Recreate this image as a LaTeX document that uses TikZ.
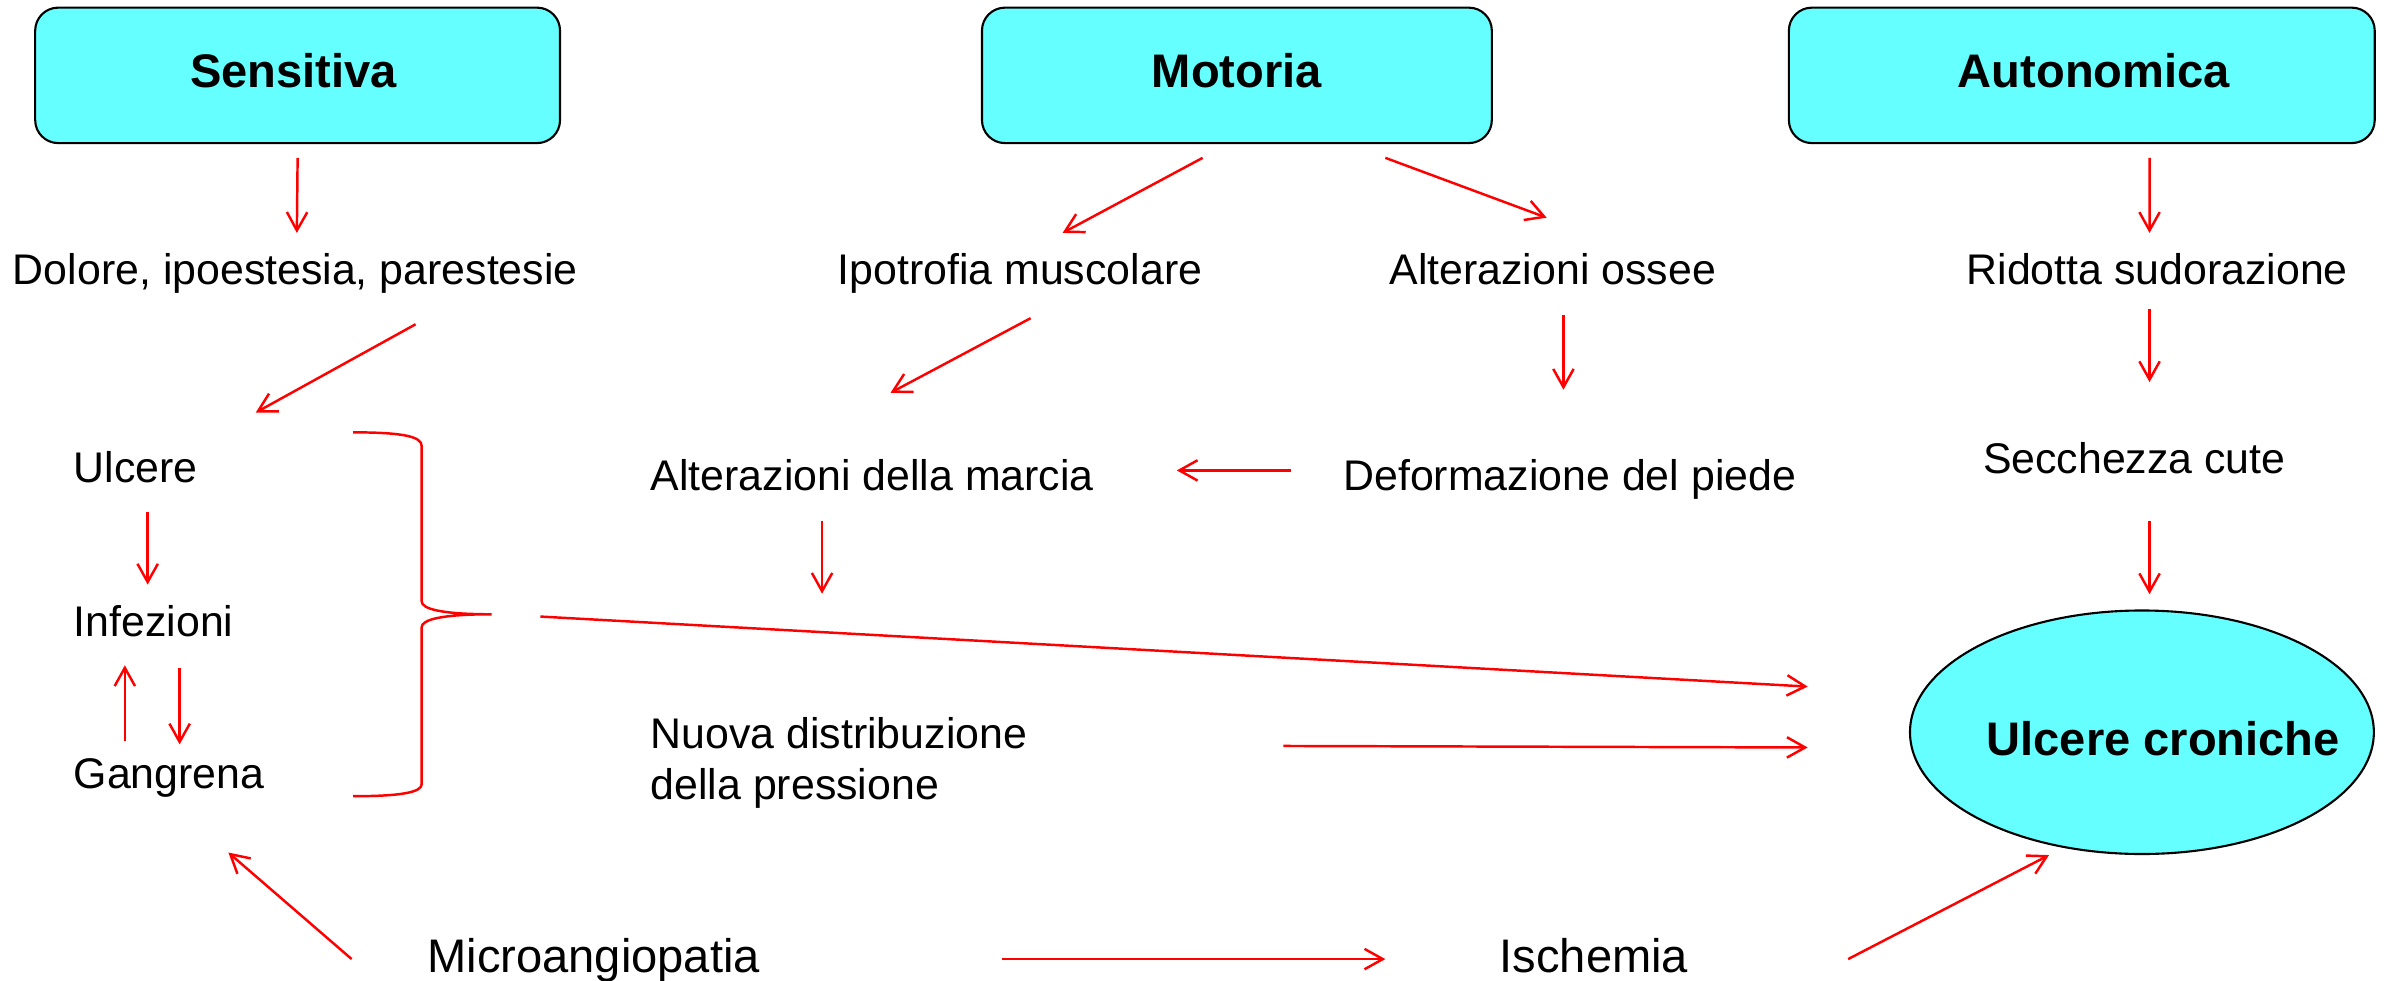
\documentclass[tikz,border=0pt]{standalone}
\usepackage{fontspec}
\setmainfont{Liberation Sans}
\usepackage{tikz}
\usetikzlibrary{arrows.meta,shapes}
\definecolor{boxcyan}{HTML}{66FFFF}

\begin{document}
\begin{tikzpicture}[->, x=0.015224cm, y=-0.015224cm,
        line/.style = {draw = red, line width=0.7pt, >={Straight Barb[length=5.2pt,width=5.8pt]}},
        txt/.style = {inner sep=0pt, font=\fontsize{12.2}{14.7}\selectfont},
        bigtxt/.style = {inner sep=0pt, font=\fontsize{13.4}{16}\selectfont},
        head/.style = {draw, line width=0.6pt, fill=boxcyan, rounded corners=0.23cm, text depth=2.6pt,
            minimum height=1.355cm, inner sep=0pt, font=\fontsize{13.4}{16}\selectfont\bfseries}]
    \useasboundingbox (0,0) rectangle (1568,644.4);
    % tre forme di neuropatia
    \foreach \name/\x/\w/\dx/\txt in {sens/195.5/5.25/-2.2pt/Sensitiva, mot/812.5/5.10/0pt/Motoria,
            auto/1367.5/5.86/6.9pt/Autonomica}
        \path node[head, minimum width=\w cm] (\name) at (\x,49.5) {\hspace*{\dx}\txt};
    \foreach \name/\x/\y/\txt in {dol/194/187/{Dolore, ipoestesia, parestesie}, ipo/670/187/Ipotrofia muscolare,
            oss/1020/187/Alterazioni ossee, rid/1417/187/Ridotta sudorazione, sec/1402/311/Secchezza cute}
        \path node[txt, anchor=base] (\name) at (\x,\y) {\txt};
    \foreach \name/\x/\y/\txt in {ulc/48/317/Ulcere, inf/48/418/Infezioni, gan/48/518/Gangrena,
            mar/427/322/Alterazioni della marcia, def/882/322/Deformazione del piede}
        \path node[txt, anchor=base west] (\name) at (\x,\y) {\txt};
    \path node[txt, anchor=north west, align=left] (nuo) at (427,470.5) {Nuova distribuzione\\della pressione};
    \path node[bigtxt, anchor=base] (mic) at (390,639) {Microangiopatia};
    \path node[bigtxt, anchor=base] (isc) at (1047,639) {Ischemia};
    \path node[draw, ellipse, line width=0.6pt, fill=boxcyan, minimum width=4.64cm, minimum height=2.436cm] (uc) at (1407,481) {};
    \path node[bigtxt, font=\fontsize{13.4}{16}\selectfont\bfseries, anchor=base] (uctxt) at (1421,496) {Ulcere croniche};
    % graffa
    \draw[-, red, line width=0.7pt] (232,284) .. controls (266,284) and (277,287) .. (277,293) -- (277,395)
        .. controls (277,400) and (290,403.5) .. (323,403.5) .. controls (290,403.5) and (277,407) .. (277,412)
        -- (277,515) .. controls (277,520) and (266,523) .. (232,523);
    \coordinate (brc) at (355,405);
    % frecce
    \path[line] ([shift={(0,9)}]sens.south) -- ([shift={(1,-34)}]dol.base);
    \path[line] ([shift={(-22.5,9)}]mot.south) -- ([shift={(28,-34)}]ipo.base);
    \path[line] ([shift={(97.5,9)}]mot.south) -- ([shift={(-4,-44)}]oss.base);
    \path[line] ([shift={(44.5,9)}]auto.south) -- ([shift={(-5,-34)}]rid.base);
    \path[line] ([shift={(79,26)}]dol.base) -- ([shift={(120,-46)}]ulc.base west);
    \path[line] ([shift={(7,22)}]ipo.base) -- ([shift={(158,-64)}]mar.base west);
    \path[line] ([shift={(7,20)}]oss.base) -- ([shift={(145,-66)}]def.base west);
    \path[line] ([shift={(-5,16)}]rid.base) -- ([shift={(10,-60)}]sec.base);
    \path[line] ([shift={(-34,-13)}]def.base west) -- ([shift={(54,-13)}]mar.base east);
    \path[line] ([shift={(10,31)}]sec.base) -- ([shift={(5,-10)}]uc.north);
    \path[line] ([shift={(113,20)}]mar.base west) -- ([shift={(113,-80.5)}]nuo.north west);
    \path[line] ([shift={(49,19)}]ulc.base west) -- ([shift={(49,-34)}]inf.base west);
    \path[line] ([shift={(34,-31)}]gan.base west) -- ([shift={(34,19)}]inf.base west);
    \path[line] ([shift={(70,21)}]inf.base west) -- ([shift={(70,-29)}]gan.base west);
    \path[line] (brc) -- ([shift={(-66.5,-30)}]uc.west);
    \path[line] ([shift={(416,19.5)}]nuo.north west) -- ([shift={(-66.5,10)}]uc.west);
    \path[line] ([shift={(-159,-9)}]mic.base) -- ([shift={(102,42)}]gan.base west);
    \path[line] ([shift={(268,-9)}]mic.base) -- ([shift={(-137,-9)}]isc.base);
    \path[line] ([shift={(167,-9)}]isc.base) -- ([shift={(-61,0)}]uc.south);
\end{tikzpicture}
\end{document}
